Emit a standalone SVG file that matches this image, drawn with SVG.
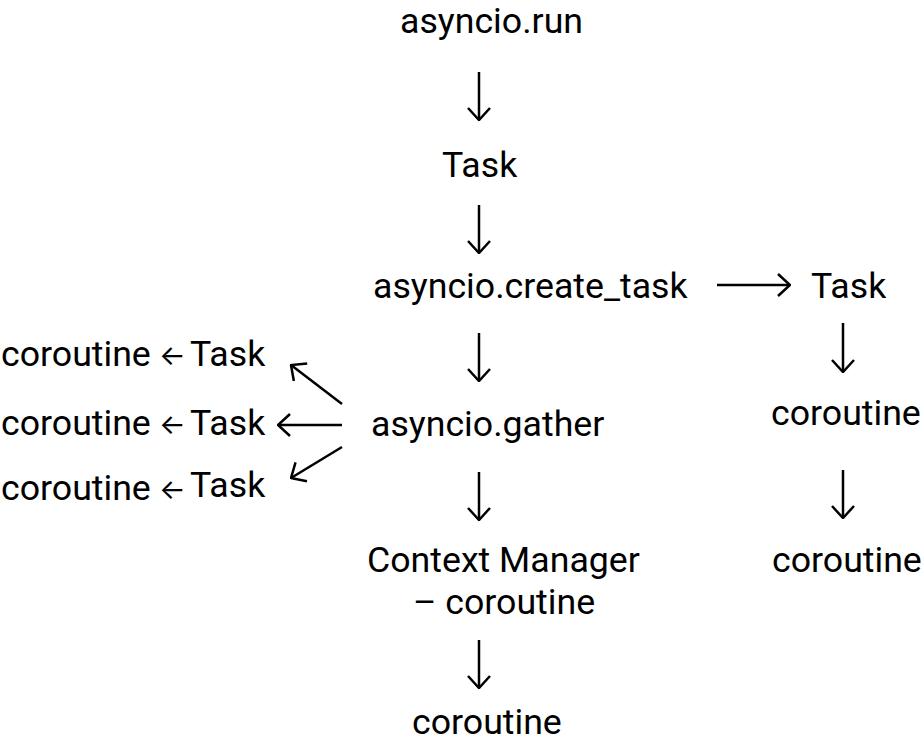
<svg xmlns="http://www.w3.org/2000/svg" width="924" height="744" viewBox="0 0 924 744">
<style>
text{font-family:Roboto,"Liberation Sans",sans-serif;font-size:35.7px;fill:#000}
text.ar{font-family:Inter,Roboto,sans-serif;font-size:28px}
.c{fill:none;stroke:#000;stroke-width:2.5;marker-end:url(#ah)}
</style>
<defs>
<marker id="ah" markerUnits="userSpaceOnUse" viewBox="0 0 14 24" refX="13" refY="12" markerWidth="14" markerHeight="24" orient="auto">
<path d="M1,1 L13,12 L1,23" fill="none" stroke="#000" stroke-width="2.5"/>
</marker>
</defs>
<rect width="924" height="744" fill="#fff"/>
<g id="run"><text x="400" y="33">asyncio.run</text></g>
<g id="task1"><text x="442" y="177">Task</text></g>
<g id="create_task"><text x="373" y="298">asyncio.create_task</text></g>
<g id="task2"><text x="811" y="298">Task</text></g>
<g id="coro_r1"><text x="771" y="425">coroutine</text></g>
<g id="coro_r2"><text x="772" y="572">coroutine</text></g>
<g id="gather"><text x="371" y="436">asyncio.gather</text></g>
<g id="row1"><text x="1" y="366">coroutine</text><text class="ar" x="159" y="365">←</text><text x="190" y="366">Task</text></g>
<g id="row2"><text x="1" y="435">coroutine</text><text class="ar" x="159" y="434">←</text><text x="190" y="435">Task</text></g>
<g id="row3"><text x="1" y="500">coroutine</text><text class="ar" x="159" y="499">←</text><text x="190" y="497">Task</text></g>
<g id="cm"><text x="367" y="572">Context Manager</text><text x="413" y="614">– coroutine</text></g>
<g id="coro_b"><text x="412" y="734">coroutine</text></g>
<g id="connectors">
<path class="c" d="M479,72V120"/>
<path class="c" d="M479,205V253"/>
<path class="c" d="M479,333V381"/>
<path class="c" d="M479,472V520"/>
<path class="c" d="M479,640V688"/>
<path class="c" d="M843,323V372"/>
<path class="c" d="M843,470V518"/>
<path class="c" d="M717,285H790"/>
<path class="c" d="M342,404L291,365"/>
<path class="c" d="M342,425H278"/>
<path class="c" d="M342,447L291,478"/>
</g>
</svg>
